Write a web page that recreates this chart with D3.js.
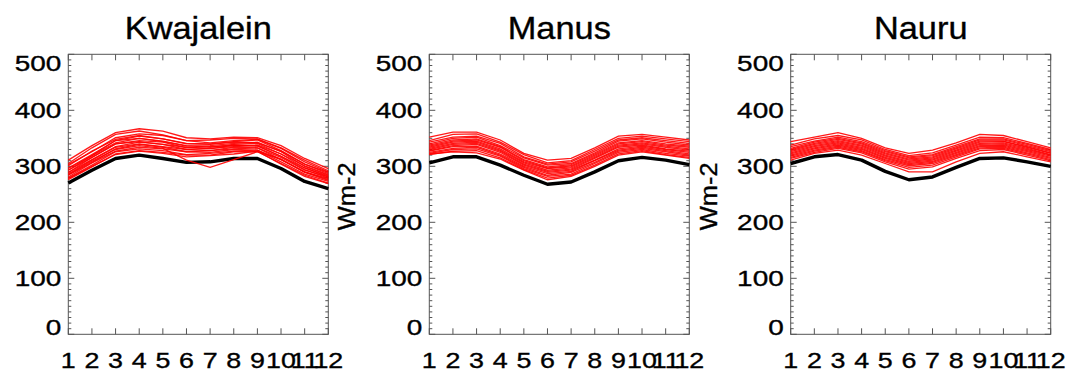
<!DOCTYPE html>
<html>
<head>
<meta charset="utf-8">
<script src="https://cdn.jsdelivr.net/npm/d3@7"></script>
<style>
  html, body { margin: 0; padding: 0; background: #fff; }
  svg { display: block; }
  text { font-family: "Liberation Sans", Arial, Helvetica, sans-serif; fill: #000; stroke: #000; stroke-width: 0.35px; }
</style>
</head>
<body>
<svg id="chart" width="1073" height="375"></svg>
<script>
// Monthly mean surface flux (W m-2) at three tropical sites:
// observations (black) and an ensemble of model runs (red).
const months = [1, 2, 3, 4, 5, 6, 7, 8, 9, 10, 11, 12];
const yTicks = [0, 100, 200, 300, 400, 500];
const siteNames = ["Kwajalein", "Manus", "Nauru"];
const unitLabel = "Wm-2";

const kwajaleinObs = [270, 293, 314, 320, 314, 307, 308, 314, 314, 296, 273, 260];
const manusObs     = [306, 317, 317, 302, 284, 268, 272, 290, 310, 316, 311, 303];
const nauruObs     = [305, 317, 321, 311, 291, 276, 281, 298, 314, 315, 308, 300];

const kwajaleinModels = [
  [311, 337, 360, 367, 363, 351, 349, 352, 351, 337, 314, 296],
  [305, 333, 357, 363, 356, 346, 347, 350, 349, 333, 311, 292],
  [303, 326, 351, 358, 355, 346, 342, 346, 348, 332, 308, 290],
  [301, 327, 348, 355, 349, 341, 340, 344, 347, 328, 304, 287],
  [297, 321, 346, 354, 349, 340, 339, 343, 342, 327, 304, 289],
  [296, 319, 346, 350, 344, 336, 337, 341, 343, 326, 300, 284],
  [293, 319, 342, 350, 345, 337, 334, 339, 341, 322, 301, 285],
  [293, 316, 340, 346, 343, 333, 335, 337, 338, 322, 297, 281],
  [289, 316, 340, 344, 339, 334, 331, 338, 336, 318, 297, 283],
  [289, 312, 335, 343, 339, 330, 332, 335, 337, 318, 294, 279],
  [286, 311, 334, 340, 335, 330, 328, 334, 333, 316, 293, 281],
  [284, 307, 331, 339, 334, 326, 328, 331, 333, 312, 290, 276],
  [281, 306, 327, 334, 331, 326, 325, 330, 329, 312, 290, 278],
  [279, 302, 326, 331, 328, 321, 323, 327, 329, 308, 286, 273],
  [276, 299, 322, 328, 325, 320, 320, 326, 326, 305, 284, 270],
  [285, 309, 330, 337, 332, 311, 298, 312, 326, 313, 289, 275],
  [278, 300, 321, 327, 323, 317, 319, 322, 327, 304, 282, 269]
];

const manusModels = [
  [352, 361, 361, 347, 323, 311, 314, 333, 354, 357, 352, 347],
  [346, 357, 358, 343, 321, 306, 310, 330, 350, 354, 349, 344],
  [343, 352, 354, 341, 317, 304, 308, 327, 347, 351, 346, 341],
  [340, 350, 352, 337, 315, 302, 305, 324, 345, 349, 343, 338],
  [338, 347, 349, 335, 312, 299, 303, 322, 342, 346, 340, 336],
  [336, 345, 347, 334, 310, 297, 301, 320, 340, 344, 338, 334],
  [334, 343, 345, 331, 308, 296, 299, 318, 338, 342, 336, 331],
  [332, 341, 343, 329, 306, 293, 297, 316, 336, 340, 334, 329],
  [330, 339, 341, 327, 304, 291, 295, 314, 334, 338, 331, 327],
  [328, 337, 339, 325, 302, 289, 293, 311, 331, 336, 330, 325],
  [327, 335, 336, 322, 300, 287, 291, 310, 329, 334, 328, 322],
  [325, 332, 334, 320, 298, 284, 289, 307, 327, 332, 326, 320],
  [323, 330, 331, 318, 296, 282, 286, 305, 325, 330, 323, 318],
  [321, 327, 328, 315, 294, 279, 284, 302, 322, 328, 321, 316],
  [322, 326, 324, 313, 293, 276, 282, 300, 320, 326, 320, 314]
];

const nauruModels = [
  [344, 352, 360, 350, 333, 323, 329, 342, 357, 355, 344, 333],
  [338, 349, 355, 347, 330, 319, 324, 338, 352, 351, 341, 330],
  [335, 345, 352, 344, 328, 317, 321, 335, 349, 349, 339, 328],
  [332, 343, 350, 342, 326, 315, 319, 333, 347, 347, 337, 326],
  [330, 341, 348, 340, 324, 313, 317, 331, 345, 345, 335, 324],
  [328, 339, 346, 338, 322, 311, 315, 329, 343, 344, 334, 323],
  [326, 337, 344, 336, 320, 309, 313, 327, 341, 342, 332, 321],
  [324, 335, 342, 334, 318, 307, 311, 325, 339, 340, 330, 320],
  [322, 333, 340, 332, 316, 305, 309, 323, 337, 338, 328, 318],
  [320, 331, 338, 330, 314, 303, 307, 321, 335, 336, 326, 316],
  [318, 329, 336, 328, 312, 301, 305, 319, 333, 334, 324, 314],
  [316, 327, 334, 326, 310, 298, 302, 317, 331, 332, 322, 312],
  [314, 325, 332, 324, 308, 295, 299, 314, 328, 330, 320, 310],
  [311, 323, 329, 320, 305, 290, 290, 308, 323, 326, 317, 308]
];

const panels = [
  { name: siteNames[0], obs: kwajaleinObs, models: kwajaleinModels, unit: false },
  { name: siteNames[1], obs: manusObs,     models: manusModels,     unit: true },
  { name: siteNames[2], obs: nauruObs,     models: nauruModels,     unit: true }
];

const svg = d3.select("#chart");
const panelW = 260, plotTop = 54.3, plotBottom = 334.3;
const panelLefts = [68.3, 429.3, 790.7];
const axisColor = "#555";

panels.forEach((p, i) => {
  const left = panelLefts[i];
  const x = d3.scaleLinear().domain([1, 12]).range([left, left + panelW]);
  const y = d3.scaleLinear().domain([0, 500]).range([plotBottom, plotTop]);
  const g = svg.append("g");

  // title
  g.append("text")
    .attr("transform", `translate(${left + panelW / 2},39.3) scale(1.12,1)`)
    .attr("text-anchor", "middle")
    .style("font-size", "30.7px")
    .text(p.name);

  // frame
  g.append("rect")
    .attr("x", left).attr("y", plotTop)
    .attr("width", panelW).attr("height", plotBottom - plotTop)
    .attr("fill", "none").attr("stroke", axisColor).attr("stroke-width", 1);

  // y ticks (major every 100, minor every 10) on both sides, pointing inward
  const minor = d3.range(0, 501, 10);
  minor.forEach(v => {
    const len = v % 100 === 0 ? 6 : 3;
    g.append("line").attr("x1", left).attr("x2", left + len)
      .attr("y1", y(v)).attr("y2", y(v)).attr("stroke", axisColor).attr("stroke-width", 1);
    g.append("line").attr("x1", left + panelW).attr("x2", left + panelW - len)
      .attr("y1", y(v)).attr("y2", y(v)).attr("stroke", axisColor).attr("stroke-width", 1);
  });

  // x ticks top and bottom
  months.forEach(m => {
    g.append("line").attr("x1", x(m)).attr("x2", x(m))
      .attr("y1", plotBottom).attr("y2", plotBottom - 6).attr("stroke", axisColor);
    g.append("line").attr("x1", x(m)).attr("x2", x(m))
      .attr("y1", plotTop).attr("y2", plotTop + 6).attr("stroke", axisColor);
  });

  // y tick labels (end labels kept inside the frame height)
  yTicks.forEach(v => {
    const cy = Math.min(Math.max(y(v), plotTop + 9), plotBottom - 7.6);
    g.append("text")
      .attr("transform", `translate(${left - 7},${cy + 8}) scale(1.27,1)`)
      .attr("text-anchor", "end")
      .style("font-size", "22px")
      .text(v);
  });

  // x tick labels
  months.forEach(m => {
    g.append("text")
      .attr("transform", `translate(${x(m)},368) scale(1.22,1)`)
      .attr("text-anchor", "middle")
      .style("font-size", "22px")
      .text(m);
  });

  // unit label
  if (p.unit) {
    g.append("text")
      .attr("transform", `translate(${left - 74},${(plotTop + plotBottom) / 2 + 2}) rotate(-90) scale(1.06,1)`)
      .attr("text-anchor", "middle")
      .style("font-size", "24px")
      .text(unitLabel);
  }

  const line = d3.line().x((d, k) => x(months[k])).y(d => y(d));

  // observations
  g.append("path").datum(p.obs)
    .attr("d", line).attr("fill", "none")
    .attr("stroke", "#000").attr("stroke-width", 3.4)
    .attr("stroke-linejoin", "round");

  // model ensemble
  g.append("g").selectAll("path").data(p.models).join("path")
    .attr("d", line).attr("fill", "none")
    .attr("stroke", "#ff0000").attr("stroke-width", 1.3)
    .attr("stroke-opacity", 0.9);
});
</script>
</body>
</html>
